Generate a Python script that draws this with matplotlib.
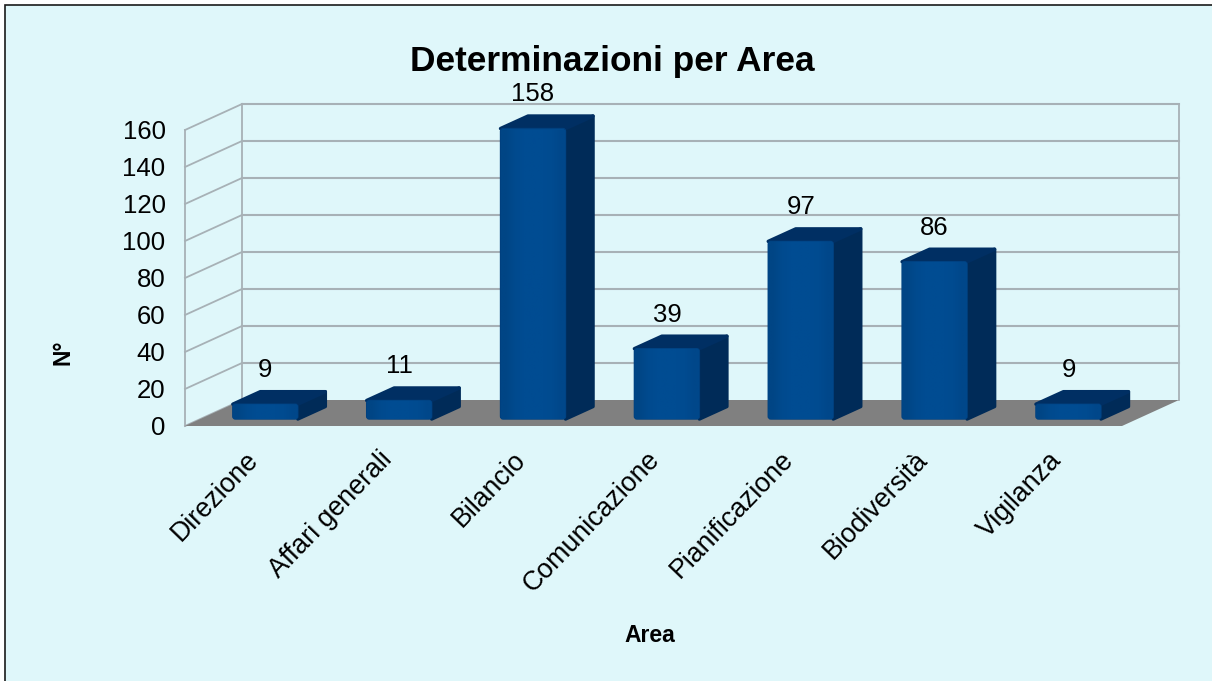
import matplotlib
matplotlib.use('Agg')
import matplotlib.pyplot as plt
import numpy as np
from matplotlib.colors import to_rgb
from matplotlib.patches import FancyBboxPatch, Polygon, Rectangle
from matplotlib.transforms import ScaledTranslation

plt.rcParams['font.family'] = ['Liberation Sans', 'DejaVu Sans']

areas = ['Direzione', 'Affari generali', 'Bilancio', 'Comunicazione',
         'Pianificazione', 'Biodiversità', 'Vigilanza']
counts = [9, 11, 158, 39, 97, 86, 9]
y_ticks = [0, 20, 40, 60, 80, 100, 120, 140, 160]

W, H = 1212, 681
bg = '#DFF7FA'
grid_col = '#A7B1B6'
front_shades = ['#004585', '#004A8E', '#004C92', '#004C92', '#004C92', '#004B90', '#00478A']

fig = plt.figure(figsize=(W / 100, H / 100), dpi=100, facecolor='white')
# runs past the right and bottom edge, only top and left border show
fig.add_artist(Rectangle((5 / W, -0.1), 1.1, 1.1 - 5 / H, transform=fig.transFigure,
                         facecolor=bg, edgecolor='#1a1a1a', lw=1.2, zorder=-1))

# axes = front plane of the fake 3d box
left, right, top, bottom = 185, 1122, 130, 426
ax = fig.add_axes([left / W, 1 - bottom / H, (right - left) / W, (bottom - top) / H])
ax.patch.set_alpha(0)
for s in ax.spines.values():
    s.set_visible(False)

px_x = 133.86
px_y = 1.85
# depth of the box and of the bars, in data units
box_dx, box_dy = 57 / px_x, 26 / px_y
bar_dx, bar_dy = 27.5 / px_x, 12.5 / px_y
bar_w = 65 / px_x
bar_shift = 0.1
bar_base = 7 / px_y

x0, x1 = -0.5, 6.5
ax.add_patch(Polygon([(x0, 0), (x1, 0), (x1 + box_dx, box_dy), (x0 + box_dx, box_dy)],
                     closed=True, facecolor='#808080', edgecolor='none', clip_on=False, zorder=2))
for t in y_ticks:
    if t > 0:
        ax.plot([x0 + box_dx, x1 + box_dx], [t + box_dy, t + box_dy], color=grid_col,
                lw=1.5, clip_on=False, zorder=1)
    ax.plot([x0, x0 + box_dx], [t, t + box_dy], color=grid_col, lw=1.3, clip_on=False, zorder=1)
ax.plot([x0, x0], [0, 160], color=grid_col, lw=1.3, clip_on=False, zorder=1)
ax.plot([x0 + box_dx] * 2, [box_dy, 160 + box_dy], color=grid_col, lw=1.3, clip_on=False, zorder=1)
ax.plot([x1 + box_dx] * 2, [box_dy, 160 + box_dy], color=grid_col, lw=1.3, clip_on=False, zorder=1)

shade_img = np.array([[to_rgb(c) for c in front_shades]])

for i, v in enumerate(counts):
    l = i + bar_shift - bar_w / 2
    r = l + bar_w
    b = bar_base
    t = bar_base + v - 1
    ax.add_patch(Polygon([(r, b), (r + bar_dx, b + bar_dy), (r + bar_dx, t + bar_dy), (r, t)],
                         closed=True, facecolor='#002B58', edgecolor='#002B58', lw=2.5,
                         joinstyle='round', clip_on=False, zorder=3))
    ax.add_patch(Polygon([(l, t), (r, t), (r + bar_dx, t + bar_dy), (l + bar_dx, t + bar_dy)],
                         closed=True, facecolor='#002F63', edgecolor='#002F63', lw=2.5,
                         joinstyle='round', clip_on=False, zorder=3))
    face = FancyBboxPatch((l, b), bar_w, t - b, boxstyle='round,pad=0,rounding_size=0.02',
                          mutation_aspect=px_x / px_y, facecolor='#004C92', edgecolor='#00407F',
                          lw=1.0, clip_on=False, zorder=4)
    ax.add_patch(face)
    img = ax.imshow(shade_img, extent=(l, r, b, t), aspect='auto', interpolation='bilinear', zorder=4.1)
    img.set_clip_path(face)
    lift = 23 if v > 100 else 22
    ax.text(i + bar_shift, t + lift / px_y, str(v), ha='center', va='bottom', fontsize=18.5,
            color='black', clip_on=False, zorder=5)

ax.set_xlim(-0.5, 6.5)
ax.set_ylim(0, 160)

ax.set_yticks(y_ticks)
ax.tick_params(axis='y', length=0, pad=14, labelsize=18.5)
for lab in ax.get_yticklabels():
    lab.set_transform(lab.get_transform() + ScaledTranslation(0, 0.4 / 100, fig.dpi_scale_trans))
ax.set_xticks(range(len(areas)))
ax.set_xticklabels(areas, rotation=46, ha='right', va='top', rotation_mode='anchor', fontsize=19.3)
ax.tick_params(axis='x', length=0, pad=15)
for lab in ax.get_xticklabels():
    lab.set_transform(lab.get_transform() + ScaledTranslation(-7 / 100, 0, fig.dpi_scale_trans))

fig.text(612 / W, 1 - 62 / H, 'Determinazioni per Area', ha='center', va='center',
         fontsize=25.4, fontweight='bold')
fig.text(650 / W, 1 - 635 / H, 'Area', ha='center', va='center', fontsize=16.5, fontweight='bold')
fig.text(63 / W, 1 - 352 / H, 'N°', ha='center', va='center', rotation=90, fontsize=16.5, fontweight='bold')

fig.savefig('out.png', dpi=100, facecolor=fig.get_facecolor())
